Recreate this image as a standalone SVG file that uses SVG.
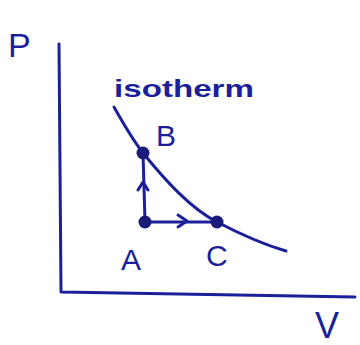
<svg xmlns="http://www.w3.org/2000/svg" width="360" height="345" viewBox="0 0 360 345">
<style>
.ln{fill:none;stroke:#1c1f9a;stroke-width:3;stroke-linecap:round;stroke-linejoin:round}
.t{fill:#1c1f9a;font-family:"Liberation Sans",Arial,sans-serif}
.dot{fill:#1a1a7a}
</style>
<rect width="360" height="345" fill="#fff"/>
<g id="axes">
<path class="ln" d="M59,44 L61,292 L355,297"/>
<text class="t" x="8" y="57" font-size="34">P</text>
<text class="t" x="315" y="338" font-size="36">V</text>
</g>
<g id="isotherm">
<path class="ln" d="M114,107 C123,123 133,140 143,153 C165,180 190,208 217,222 C240,234 262,244 286,251"/>
<text class="t" x="114" y="97" font-size="24" font-weight="bold" textLength="140" lengthAdjust="spacingAndGlyphs">isotherm</text>
</g>
<g id="connectors">
<path class="ln" d="M143,153 L145,222 L217,222"/>
<path class="ln" d="M138,190 L143,182 L148,190"/>
<path class="ln" d="M178,215 L187,221 L178,227"/>
</g>
<g id="B">
<circle class="dot" cx="143" cy="153" r="6.5"/>
<text class="t" x="156" y="146" font-size="30">B</text>
</g>
<g id="A">
<circle class="dot" cx="145" cy="222" r="6.5"/>
<text class="t" x="121" y="270" font-size="30">A</text>
</g>
<g id="C">
<circle class="dot" cx="217" cy="222" r="6.5"/>
<text class="t" x="206" y="266" font-size="30">C</text>
</g>
</svg>
